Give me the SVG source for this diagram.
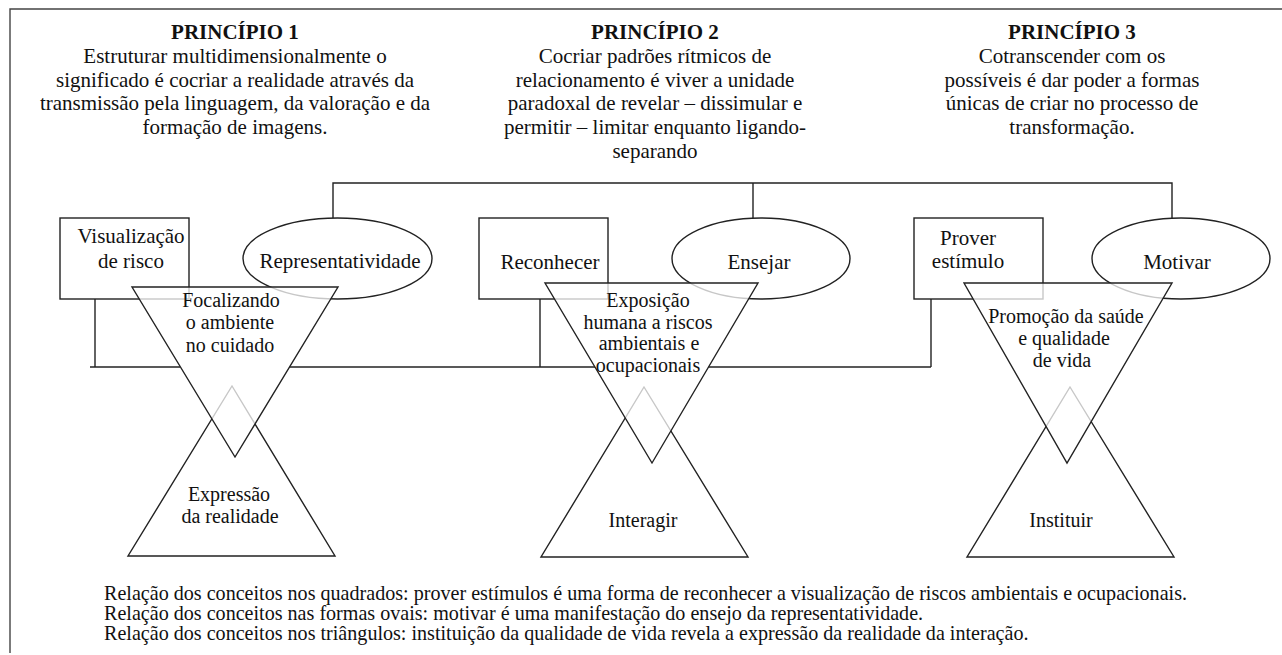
<svg xmlns="http://www.w3.org/2000/svg" width="1282" height="655" viewBox="0 0 1282 655" font-family="'Liberation Serif', 'Times New Roman', serif">
<style>
text{fill:#111;}
.h{font-size:21px;font-weight:bold;text-anchor:middle;}
.b{font-size:21px;text-anchor:middle;}
.n{font-size:21px;text-anchor:middle;}
.t{font-size:20px;text-anchor:middle;}
.f{font-size:20.1px;}
.ln{fill:none;stroke:#222;stroke-width:1.4;}
.shape{fill:#fff;stroke:#222;stroke-width:1.4;}
.inv{fill:#fff;fill-opacity:0.75;stroke:#222;stroke-width:1.4;}
.frame{fill:none;stroke:#444;stroke-width:1.4;}
</style>
<rect x="0" y="0" width="1282" height="655" fill="#fff"/>
<path class="frame" d="M10,653 V9 H1282"/>

<g id="principio1">
<text class="h" x="235" y="39">PRINCÍPIO 1</text>
<text class="b" x="235" y="63">Estruturar multidimensionalmente o</text>
<text class="b" x="235" y="87">significado é cocriar a realidade através da</text>
<text class="b" x="235" y="110">transmissão pela linguagem, da valoração e da</text>
<text class="b" x="235" y="134">formação de imagens.</text>
</g>
<g id="principio2">
<text class="h" x="655" y="39">PRINCÍPIO 2</text>
<text class="b" x="655" y="63">Cocriar padrões rítmicos de</text>
<text class="b" x="655" y="87">relacionamento é viver a unidade</text>
<text class="b" x="655" y="110">paradoxal de revelar – dissimular e</text>
<text class="b" x="655" y="134">permitir – limitar enquanto ligando-</text>
<text class="b" x="655" y="158">separando</text>
</g>
<g id="principio3">
<text class="h" x="1072" y="39">PRINCÍPIO 3</text>
<text class="b" x="1072" y="63">Cotranscender com os</text>
<text class="b" x="1072" y="87">possíveis é dar poder a formas</text>
<text class="b" x="1072" y="110">únicas de criar no processo de</text>
<text class="b" x="1072" y="134">transformação.</text>
</g>

<g id="connectors">
<path class="ln" d="M333,218 V183 H1172 V218"/>
<path class="ln" d="M753,183 V218"/>
<path class="ln" d="M95,299 V367"/>
<path class="ln" d="M540,299 V367"/>
<path class="ln" d="M931,299 V367"/>
<path class="ln" d="M90,367 H180"/>
<path class="ln" d="M289,367 H595"/>
<path class="ln" d="M708,367 H931"/>
</g>

<g id="box-visualizacao">
<rect class="shape" x="60" y="218" width="129" height="81"/>
<text class="n" x="131" y="243">Visualização</text>
<text class="n" x="131" y="268">de risco</text>
</g>
<g id="oval-representatividade">
<ellipse class="shape" cx="337.5" cy="258.5" rx="94.5" ry="40.5"/>
<text class="n" x="340" y="268">Representatividade</text>
</g>
<g id="tri-expressao">
<polygon class="shape" points="232,386 335,556 128,556"/>
<text class="t" x="229" y="501">Expressão</text>
<text class="t" x="230" y="523">da realidade</text>
</g>
<g id="tri-focalizando">
<polygon class="inv" points="132,287 338,287 235,457"/>
<text class="t" x="231" y="307">Focalizando</text>
<text class="t" x="230" y="329">o ambiente</text>
<text class="t" x="230" y="352">no cuidado</text>
</g>

<g id="box-reconhecer">
<rect class="shape" x="479" y="218" width="129" height="81"/>
<text class="n" x="550" y="269">Reconhecer</text>
</g>
<g id="oval-ensejar">
<ellipse class="shape" cx="761" cy="258.5" rx="89" ry="40.5"/>
<text class="n" x="759" y="269">Ensejar</text>
</g>
<g id="tri-interagir">
<polygon class="shape" points="644,387 748,557 541,557"/>
<text class="t" x="643" y="527">Interagir</text>
</g>
<g id="tri-exposicao">
<polygon class="inv" points="545,283 758,283 652,463"/>
<text class="t" x="648" y="307">Exposição</text>
<text class="t" x="648" y="329">humana a riscos</text>
<text class="t" x="649" y="350">ambientais e</text>
<text class="t" x="648" y="372">ocupacionais</text>
</g>

<g id="box-prover">
<rect class="shape" x="914" y="218" width="129" height="81"/>
<text class="n" x="968" y="245">Prover</text>
<text class="n" x="968" y="268">estímulo</text>
</g>
<g id="oval-motivar">
<ellipse class="shape" cx="1181" cy="258.5" rx="89" ry="40.5"/>
<text class="n" x="1177" y="269">Motivar</text>
</g>
<g id="tri-instituir">
<polygon class="shape" points="1070,387 1174,557 967,557"/>
<text class="t" x="1061" y="527">Instituir</text>
</g>
<g id="tri-promocao">
<polygon class="inv" points="964,283 1172,283 1067,463"/>
<text class="t" x="1066" y="323">Promoção da saúde</text>
<text class="t" x="1064" y="345">e qualidade</text>
<text class="t" x="1062" y="367">de vida</text>
</g>

<g id="legenda">
<text class="f" x="104" y="600">Relação dos conceitos nos quadrados: prover estímulos é uma forma de reconhecer a visualização de riscos ambientais e ocupacionais.</text>
<text class="f" x="104" y="620">Relação dos conceitos nas formas ovais: motivar é uma manifestação do ensejo da representatividade.</text>
<text class="f" x="104" y="640">Relação dos conceitos nos triângulos: instituição da qualidade de vida revela a expressão da realidade da interação.</text>
</g>
</svg>
